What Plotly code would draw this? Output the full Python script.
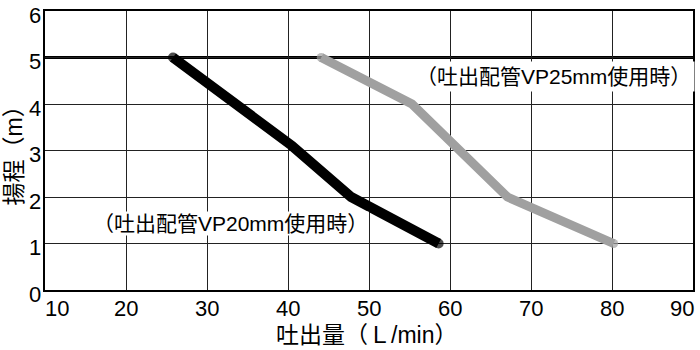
import plotly.graph_objects as go

# Pump performance curves: discharge flow (L/min) vs total head (m)
vp20_flow = [25.8, 40.5, 47.8, 58.6]
vp20_head = [5.0, 3.1, 2.0, 1.0]
vp25_flow = [44.1, 55.3, 67.1, 80.2]
vp25_head = [5.0, 4.0, 2.0, 1.0]
max_head = 5.0

x_ticks = [10, 20, 30, 40, 50, 60, 70, 80, 90]
y_ticks = [0, 1, 2, 3, 4, 5, 6]

label_vp20 = "（吐出配管VP20mm使用時）"
label_vp25 = "（吐出配管VP25mm使用時）"
x_title = "吐出量（Ｌ/min）"
y_title = "揚程（m）"

FONT = "Liberation Sans, Arial, Noto Sans CJK JP, sans-serif"

fig = go.Figure()


def curve(xs, ys, color, width):
    # round line ends: markers only at the two end points
    sizes = [width] + [0] * (len(xs) - 2) + [width]
    fig.add_trace(go.Scatter(
        x=xs, y=ys, mode="lines+markers",
        line=dict(color=color, width=width),
        marker=dict(color=color, size=sizes, line=dict(width=0)),
        hoverinfo="skip", showlegend=False,
    ))


curve(vp25_flow, vp25_head, "#a0a0a0", 9)
curve(vp20_flow, vp20_head, "#000000", 10)

# maximum head line
fig.add_shape(type="line", xref="paper", x0=0, x1=1, yref="y",
              y0=max_head, y1=max_head, line=dict(color="#000", width=3),
              layer="below")

annotations = []
# x tick labels (outer ones nudged inward)
for v in x_ticks:
    shift = 0
    if v == x_ticks[0]:
        shift = 12
    elif v == x_ticks[-1]:
        shift = -11
    annotations.append(dict(x=v, y=0, xref="x", yref="paper", text=str(v),
                            showarrow=False, xanchor="center", yanchor="top",
                            xshift=shift, yshift=-4,
                            font=dict(size=22, color="#000", family=FONT)))
# y tick labels
for v in y_ticks:
    annotations.append(dict(x=0, y=v, xref="paper", yref="y", text=str(v),
                            showarrow=False, xanchor="right", yanchor="middle",
                            xshift=-2, yshift=-4,
                            font=dict(size=22, color="#000", family=FONT)))
# curve labels
annotations.append(dict(x=0.785, y=0.765, xref="paper", yref="paper",
                        text=label_vp25, showarrow=False,
                        xanchor="center", yanchor="middle", bgcolor="#fff",
                        borderpad=3,
                        font=dict(size=21, color="#000", family=FONT)))
annotations.append(dict(x=0.286, y=0.24, xref="paper", yref="paper",
                        text=label_vp20, showarrow=False,
                        xanchor="center", yanchor="middle", bgcolor="#fff",
                        borderpad=0,
                        font=dict(size=21, color="#000", family=FONT)))
# axis titles
annotations.append(dict(x=0.5, y=0, xref="paper", yref="paper", text=x_title,
                        showarrow=False, xanchor="center", yanchor="middle",
                        xshift=-3, yshift=-45,
                        font=dict(size=23, color="#000", family=FONT)))
annotations.append(dict(x=0, y=0.5, xref="paper", yref="paper", text=y_title,
                        showarrow=False, xanchor="center", yanchor="middle",
                        textangle=-90, xshift=-32, yshift=0,
                        font=dict(size=23, color="#000", family=FONT)))

fig.update_layout(
    width=700, height=350,
    margin=dict(l=45, r=5, t=11, b=60),
    paper_bgcolor="#fff", plot_bgcolor="#fff",
    annotations=annotations,
    font=dict(family=FONT, color="#000"),
)
fig.update_xaxes(range=[10, 90], tickvals=x_ticks, showticklabels=False,
                 showgrid=True, gridcolor="#222", gridwidth=1.2,
                 showline=True, linecolor="#000", linewidth=1.5, mirror=True,
                 zeroline=False, ticks="", fixedrange=True)
fig.update_yaxes(range=[0, 6], tickvals=y_ticks, showticklabels=False,
                 showgrid=True, gridcolor="#222", gridwidth=1.2,
                 showline=True, linecolor="#000", linewidth=1.5, mirror=True,
                 zeroline=False, ticks="", fixedrange=True)

fig.write_html("out.html")
